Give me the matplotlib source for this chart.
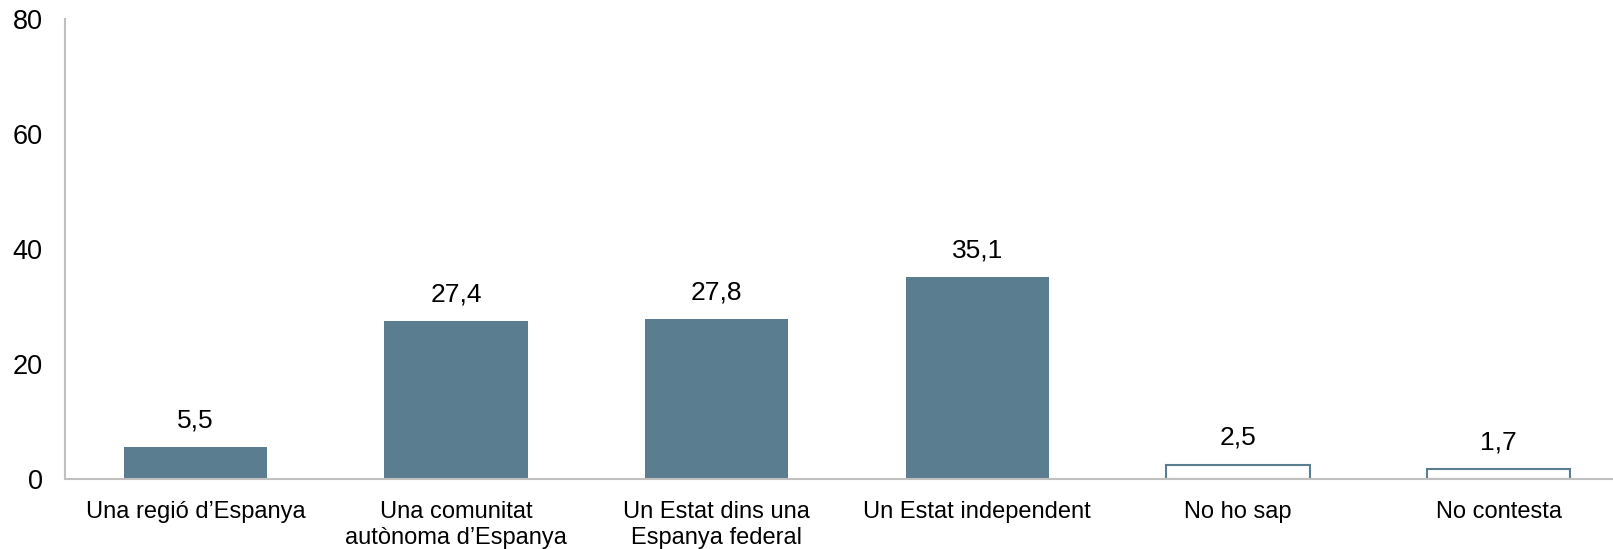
import matplotlib.pyplot as plt
import numpy as np

plt.rcParams['font.family'] = ['Liberation Sans', 'DejaVu Sans']

categories = ["Una regió d’Espanya", "Una comunitat\nautònoma d’Espanya",
              "Un Estat dins una\nEspanya federal", "Un Estat independent",
              "No ho sap", "No contesta"]
values = [5.5, 27.4, 27.8, 35.1, 2.5, 1.7]
hollow = [False, False, False, False, True, True]

bar_color = '#5b7d90'
axis_color = '#c0c0c0'

fig = plt.figure(figsize=(16.13, 5.49), dpi=100)
ax = fig.add_axes([65 / 1613, 70 / 549, 1564 / 1613, 460 / 549])

x = np.arange(len(categories))
for xi, v, h in zip(x, values, hollow):
    if h:
        ax.bar(xi, v, width=0.55, color='white', edgecolor=bar_color, linewidth=1.5)
    else:
        ax.bar(xi, v, width=0.55, color=bar_color)
    ax.text(xi, v + 2.6, f"{v:.1f}".replace('.', ','), ha='center', va='bottom', fontsize=19)

ax.set_xlim(-0.5, 5.5)
ax.set_ylim(0, 80)
ax.set_yticks([0, 20, 40, 60, 80])
ax.set_xticks(x)
ax.set_xticklabels(categories, fontsize=17, linespacing=1.2)
ax.tick_params(axis='both', length=0)
ax.tick_params(axis='x', pad=16)
ax.tick_params(axis='y', pad=16, labelsize=19.5)
for s in ['top', 'right']:
    ax.spines[s].set_visible(False)
for s in ['left', 'bottom']:
    ax.spines[s].set_color(axis_color)
    ax.spines[s].set_linewidth(1.5)
ax.set_axisbelow(False)

fig.savefig('out.png', dpi=100)
